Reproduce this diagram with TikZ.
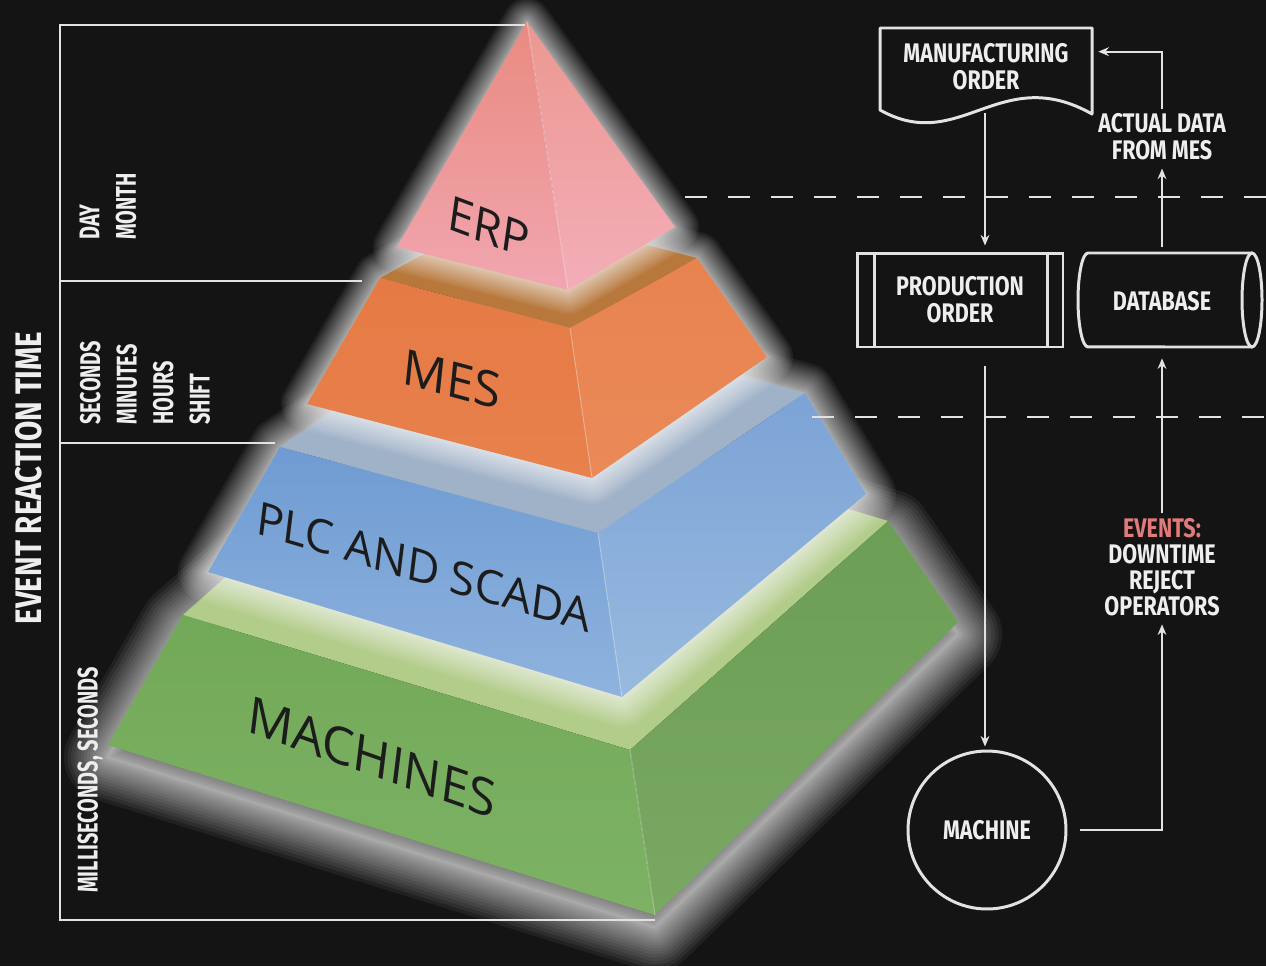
\documentclass[tikz,border=0pt]{standalone}
\usepackage{fontspec}
\setmainfont{Open Sans}
\newfontfamily\cond[FakeStretch=0.8]{Fira Sans}
\newfontfamily\condn[FakeStretch=0.7]{Fira Sans}
\usetikzlibrary{arrows.meta,calc}
\definecolor{bg}{HTML}{141414}
\definecolor{linec}{HTML}{E2E2E2}
\definecolor{txtc}{HTML}{EEEEEE}
\definecolor{evtc}{HTML}{E27A7C}
\definecolor{lblc}{HTML}{1C1C1C}
\newcommand\glowpath[3]{\foreach \k in {1,...,18}{\pgfmathsetmacro\lw{2*#2*0.02*(\k/18)^1.5}\draw[white,opacity=#3,line width=\lw cm,line join=round] #1;}}
\begin{document}
\begin{tikzpicture}[x=0.02cm,y=-0.02cm,
  wline/.style={draw=linec,line width=1.1pt},
  arr/.style={wline,-{Stealth[length=6pt,width=5pt]}},
  shp/.style={draw=linec,line width=1.7pt},
  ftxt/.style={text=txtc,font=\cond\bfseries\fontsize{15.3}{15.3}\selectfont,align=center,inner sep=0pt},
  scl/.style={text=txtc,font=\condn\bfseries\fontsize{16.2}{20.8}\selectfont,align=left,rotate=90,anchor=west,inner sep=0pt},
  dashl/.style={draw=linec,line width=1.1pt,dash pattern=on 0.44cm off 0.42cm},
  lbl/.style={text=lblc,inner sep=0pt,font=\fontsize{#1}{#1}\selectfont},
  ridge/.style={draw=white,opacity=0.3,line width=0.6pt}]

\useasboundingbox (0,0) rectangle (1266,966);
\fill[bg] (0,0) rectangle (1266,966);

% ---------- pyramid coordinates ----------
\coordinate (eA) at (527,22);  \coordinate (eL) at (397,247);
\coordinate (eF) at (568,290); \coordinate (eR) at (675,227);
\coordinate (mTL) at (380,278); \coordinate (mTF) at (570,328); \coordinate (mTR) at (697,258);
\coordinate (mBL) at (307,404); \coordinate (mBF) at (592,478); \coordinate (mBR) at (767,357);
\coordinate (mBk) at (507,208);
\coordinate (pTL) at (280,447); \coordinate (pTF) at (598,533); \coordinate (pTR) at (805,393);
\coordinate (pBL) at (208,572); \coordinate (pBF) at (622,697); \coordinate (pBR) at (866,494);
\coordinate (pBk) at (487,307);
\coordinate (aTL) at (183,615); \coordinate (aTF) at (630,750); \coordinate (aTR) at (888,521);
\coordinate (aBL) at (108,745); \coordinate (aBF) at (655,915); \coordinate (aBR) at (958,622);
\coordinate (aBk) at (441,386);

% ---------- machines layer ----------
\begin{scope}[transform canvas={yshift=-7pt}]
\glowpath{(aBL) -- (aTL) -- (aBk) -- (aTR) -- (aBR) -- (aBF) -- cycle}{44}{0.06}
\end{scope}
\fill[fill={rgb,255:red,178;green,204;blue,138}] (aTL) -- (aBk) -- (aTR) -- (aTF) -- cycle;
\shade[top color={rgb,255:red,114;green,169;blue,88},bottom color={rgb,255:red,125;green,178;blue,100}] (aTL) -- (aTF) -- (aBF) -- (aBL) -- cycle;
\shade[top color={rgb,255:red,108;green,158;blue,85},bottom color={rgb,255:red,121;green,168;blue,98}] (aTF) -- (aTR) -- (aBR) -- (aBF) -- cycle;
\draw[ridge] (aTF) -- (aBF);

% ---------- PLC layer ----------
\glowpath{(pBL) -- (pTL) -- (pBk) -- (pTR) -- (pBR) -- (pBF) -- cycle}{30}{0.06}
\fill[fill={rgb,255:red,160;green,178;blue,200}] (pTL) -- (pBk) -- (pTR) -- (pTF) -- cycle;
\shade[top color={rgb,255:red,110;green,155;blue,210},bottom color={rgb,255:red,143;green,179;blue,222}] (pTL) -- (pTF) -- (pBF) -- (pBL) -- cycle;
\shade[top color={rgb,255:red,124;green,163;blue,214},bottom color={rgb,255:red,152;green,186;blue,223}] (pTF) -- (pTR) -- (pBR) -- (pBF) -- cycle;
\draw[ridge] (pTF) -- (pBF);

% ---------- MES layer ----------
\glowpath{(mBL) -- (mTL) -- (mBk) -- (mTR) -- (mBR) -- (mBF) -- cycle}{26}{0.06}
\fill[fill={rgb,255:red,184;green,120;blue,60}] (mTL) -- (mBk) -- (mTR) -- (mTF) -- cycle;
\shade[top color={rgb,255:red,229;green,122;blue,68},bottom color={rgb,255:red,232;green,129;blue,77}] (mTL) -- (mTF) -- (mBF) -- (mBL) -- cycle;
\shade[top color={rgb,255:red,232;green,131;blue,79},bottom color={rgb,255:red,234;green,138;blue,88}] (mTF) -- (mTR) -- (mBR) -- (mBF) -- cycle;
\draw[ridge] (mTF) -- (mBF);

% ---------- ERP layer ----------
\glowpath{(eL) -- (eA) -- (eR) -- (eF) -- cycle}{24}{0.055}
\shade[top color={rgb,255:red,233;green,138;blue,128},bottom color={rgb,255:red,241;green,166;blue,176}] (eA) -- (eF) -- (eL) -- cycle;
\shade[top color={rgb,255:red,236;green,151;blue,144},bottom color={rgb,255:red,243;green,174;blue,184}] (eA) -- (eR) -- (eF) -- cycle;
\draw[ridge] (eA) -- (eF);

% ---------- pyramid labels ----------
\node[lbl=27,rotate=-8,yslant=-0.22] (erp) at (489,227) {ERP};
\node[lbl=28,rotate=-6,yslant=-0.16] (mes) at (452,379) {MES};
\node[lbl=26,rotate=-7,yslant=-0.17] (plc) at (424,567) {PLC AND SCADA};
\node[lbl=29,rotate=-7,yslant=-0.22] (mach) at (372,757) {MACHINES};

% ---------- left scale ----------
\draw[wline] (525,25) -- (60,25) -- (60,920) -- (655,920);
\draw[wline] (60,281) -- (362,281);
\draw[wline] (60,443) -- (275,443);
\node[text=txtc,font=\cond\bfseries\fontsize{21}{21}\selectfont,rotate=90,inner sep=0pt] (ert) at (29,478) {EVENT REACTION TIME};
\node[scl] (dm) at (108,240) {DAY\\MONTH};
\node[scl] (smhs) at (145,425) {SECONDS\\MINUTES\\HOURS\\SHIFT};
\node[scl] (msec) at (90,893) {MILLISECONDS, SECONDS};

% ---------- dashed separators ----------
\draw[dashl] (685,197) -- (1266,197);
\draw[dashl] (812,417) -- (1266,417);

% ---------- flowchart ----------
\node[inner sep=0pt,minimum width=4.24cm,minimum height=1.72cm] (mo) at (986,71) {};
\draw[shp,line join=round] (880,110) -- (880,28) -- (1092,28) -- (1092,114) .. controls (1000,62) and (960,155) .. (880,110) -- cycle;
\node[ftxt] (motxt) at (986,67) {MANUFACTURING\\ORDER};

\node[shp,ftxt,minimum width=4.12cm,minimum height=1.88cm] (po) at (960,300) {PRODUCTION\\ORDER};
\draw[shp] ($(po.north west)+(19,0)$) -- ($(po.south west)+(19,0)$);
\draw[shp] ($(po.north east)+(-17,0)$) -- ($(po.south east)+(-17,0)$);

\node[inner sep=0pt,minimum width=3.68cm,minimum height=1.88cm] (db) at (1170,300) {};
\draw[shp] (1252,253) -- (1088,253) arc[start angle=90,end angle=270,x radius=0.2cm,y radius=0.94cm] -- (1252,347);
\draw[shp] (1252,300) ellipse[x radius=0.2cm,y radius=0.94cm];
\node[ftxt] (dbtxt) at (1162,301) {DATABASE};

\node[shp,circle,ftxt,minimum size=3.16cm] (machine) at (987,830) {MACHINE};

\node[ftxt] (act) at (1162,137) {ACTUAL DATA\\FROM MES};
\node[ftxt,font=\cond\bfseries\fontsize{15.3}{14.9}\selectfont] (evt) at (1162,567) {\textcolor{evtc}{EVENTS:}\\DOWNTIME\\REJECT\\OPERATORS};

\draw[arr] ($(mo.south)+(-1,-1)$) -- ($(po.north -| mo.south)+(-1,-6)$);
\draw[arr] ($(db.north -| act.south)+(0,-6)$) -- ($(act.south)+(0,8)$);
\draw[arr] ($(act.north)+(0,-4)$) |- ($(mo.north east)+(6,24)$);
\draw[arr] ($(po.south -| machine.north)+(-2,18)$) -- ($(machine.north)+(-2,-3)$);
\draw[arr] ($(machine.east)+(13,0)$) -| ($(evt.south)+(0,8)$);
\draw[arr] ($(evt.north)+(0,-5)$) -- ($(db.south -| evt.north)+(0,11)$);
\end{tikzpicture}
\end{document}
